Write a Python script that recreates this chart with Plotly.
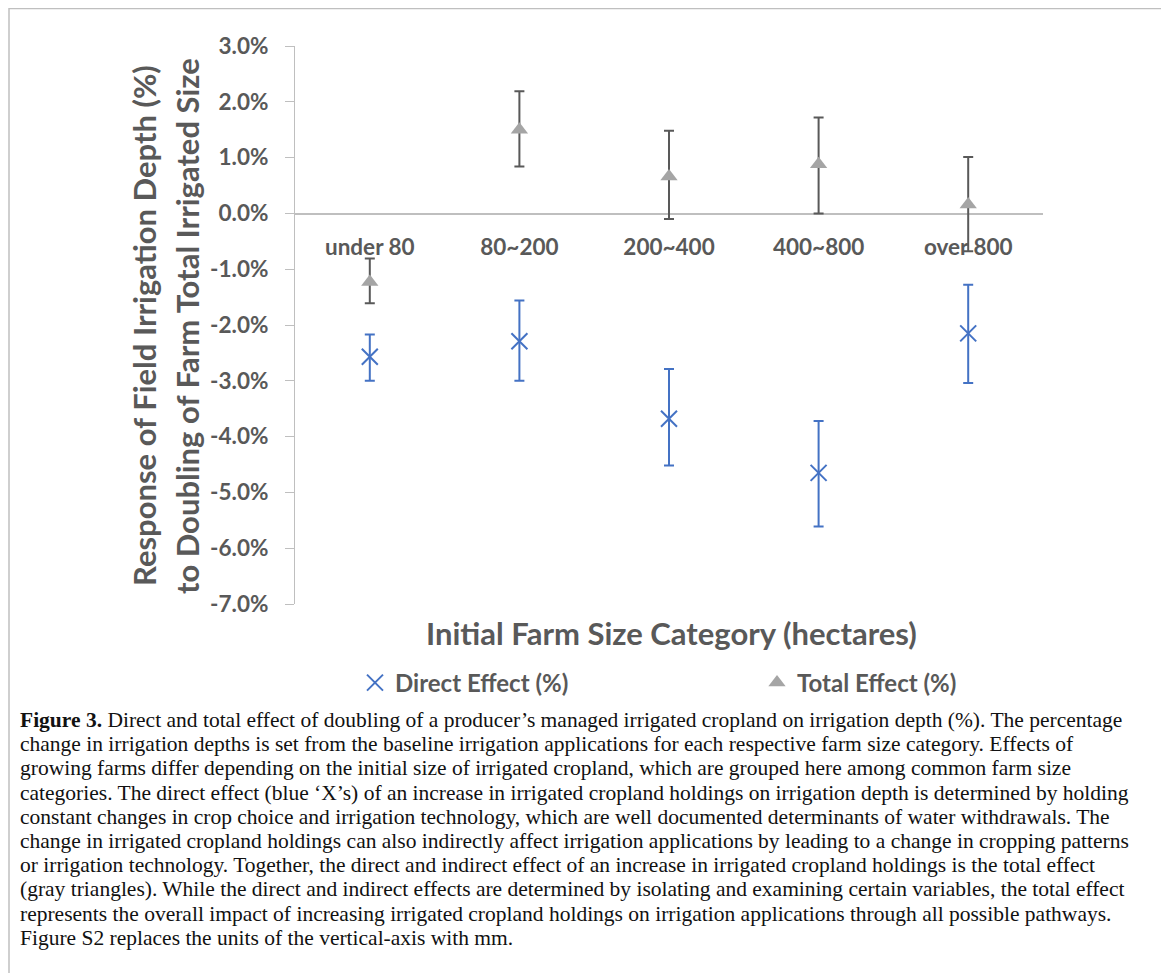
import plotly.graph_objects as go

categories = ["under 80", "80~200", "200~400", "400~800", "over 800"]

direct_effect = [-2.57, -2.29, -3.68, -4.65, -2.15]
direct_upper = [-2.17, -1.56, -2.79, -3.72, -1.28]
direct_lower = [-3.00, -3.00, -4.52, -5.61, -3.04]

total_effect = [-1.23, 1.50, 0.66, 0.88, 0.16]
total_upper = [-0.81, 2.19, 1.48, 1.72, 1.01]
total_lower = [-1.61, 0.84, -0.10, 0.00, -0.68]

y_ticks = [3, 2, 1, 0, -1, -2, -3, -4, -5, -6, -7]
y_tick_labels = ["3.0%", "2.0%", "1.0%", "0.0%", "-1.0%", "-2.0%", "-3.0%",
                 "-4.0%", "-5.0%", "-6.0%", "-7.0%"]

caption_lines = [
    "<b>Figure 3.</b> Direct and total effect of doubling of a producer’s managed irrigated cropland on irrigation depth (%). The percentage",
    "change in irrigation depths is set from the baseline irrigation applications for each respective farm size category. Effects of",
    "growing farms differ depending on the initial size of irrigated cropland, which are grouped here among common farm size",
    "categories. The direct effect (blue ‘X’s) of an increase in irrigated cropland holdings on irrigation depth is determined by holding",
    "constant changes in crop choice and irrigation technology, which are well documented determinants of water withdrawals. The",
    "change in irrigated cropland holdings can also indirectly affect irrigation applications by leading to a change in cropping patterns",
    "or irrigation technology. Together, the direct and indirect effect of an increase in irrigated cropland holdings is the total effect",
    "(gray triangles). While the direct and indirect effects are determined by isolating and examining certain variables, the total effect",
    "represents the overall impact of increasing irrigated cropland holdings on irrigation applications through all possible pathways.",
    "Figure S2 replaces the units of the vertical-axis with mm.",
]

OFF = 8  # page body margin
W, H = 1169 - OFF, 973 - OFF
L, R, T, B = 295 - OFF, 1043 - OFF, 46 - OFF, 604 - OFF
PW, PH = R - L, B - T


def px_x(x):
    return (x - OFF - L) / PW


def px_y(y):
    return (B - (y - OFF)) / PH


GRAY = "#595959"
BLUE = "#4472C4"
TRI = "#A5A5A5"
FONT = "Lato"

fig = go.Figure()

fig.add_trace(go.Scatter(
    x=categories, y=direct_effect, mode="markers", name="Direct Effect (%)",
    legend="legend",
    marker=dict(symbol="x-thin", size=16, color=BLUE, line=dict(color=BLUE, width=2)),
    error_y=dict(type="data", symmetric=False,
                 array=[u - v for u, v in zip(direct_upper, direct_effect)],
                 arrayminus=[v - l for v, l in zip(direct_effect, direct_lower)],
                 color=BLUE, thickness=2, width=5),
))

fig.add_trace(go.Scatter(
    x=categories, y=total_effect, mode="markers", name="Total Effect (%)",
    legend="legend2",
    marker=dict(symbol="triangle-up", size=15, color=TRI),
    error_y=dict(type="data", symmetric=False,
                 array=[u - v for u, v in zip(total_upper, total_effect)],
                 arrayminus=[v - l for v, l in zip(total_effect, total_lower)],
                 color=GRAY, thickness=2, width=5),
))

annotations = []
annotations.append(dict(
    text="Response of Field Irrigation Depth (%)", textangle=-90,
    xref="paper", yref="paper", x=px_x(144), y=px_y(326),
    xanchor="center", yanchor="middle", showarrow=False,
    font=dict(family=FONT, size=31, color=GRAY, weight="bold"),
))
annotations.append(dict(
    text="to Doubling of Farm Total Irrigated Size", textangle=-90,
    xref="paper", yref="paper", x=px_x(187), y=px_y(326),
    xanchor="center", yanchor="middle", showarrow=False,
    font=dict(family=FONT, size=31, color=GRAY, weight="bold"),
))
annotations.append(dict(
    text="Initial Farm Size Category (hectares)",
    xref="paper", yref="paper", x=px_x(671), y=px_y(633),
    xanchor="center", yanchor="middle", showarrow=False,
    font=dict(family=FONT, size=31, color=GRAY, weight="bold"),
))
for i, line in enumerate(caption_lines):
    annotations.append(dict(
        text=line, xref="paper", yref="paper",
        x=px_x(18), y=px_y(720 + i * 24.2),
        xanchor="left", yanchor="middle", showarrow=False, align="left",
        font=dict(family="Liberation Serif", size=21.5, color="#111111"),
    ))

shapes = [
    dict(type="line", xref="paper", yref="paper", x0=px_x(9), x1=px_x(9), y0=px_y(8), y1=px_y(1000),
         line=dict(color="#BFBFBF", width=1.5)),
    dict(type="line", xref="paper", yref="paper", x0=px_x(1164), x1=px_x(1164), y0=px_y(8), y1=px_y(1000),
         line=dict(color="#BFBFBF", width=1.5)),
    dict(type="line", xref="paper", yref="paper", x0=px_x(9), x1=px_x(1164), y0=px_y(8.5), y1=px_y(8.5),
         line=dict(color="#BFBFBF", width=1.5)),
]

legend_font = dict(family=FONT, size=24, color=GRAY, weight="bold")

fig.update_layout(
    width=W, height=H,
    margin=dict(l=L, r=W - R, t=T, b=H - B, autoexpand=False),
    paper_bgcolor="white", plot_bgcolor="white",
    showlegend=True,
    legend=dict(orientation="h", x=px_x(355), y=px_y(683), xanchor="left", yanchor="middle",
                itemwidth=30, font=legend_font, bgcolor="rgba(0,0,0,0)"),
    legend2=dict(orientation="h", x=px_x(757), y=px_y(683), xanchor="left", yanchor="middle",
                 itemwidth=30, font=legend_font, bgcolor="rgba(0,0,0,0)"),
    annotations=annotations,
    shapes=shapes,
    xaxis=dict(
        type="category", range=[-0.5, 4.5], anchor="free", position=px_y(213.5),
        showline=True, linecolor="#BFBFBF", linewidth=1.5, showgrid=False, zeroline=False,
        ticks="", ticklabelstandoff=14, layer="below traces",
        tickfont=dict(family=FONT, size=22.5, color=GRAY, weight="bold"),
    ),
    yaxis=dict(
        range=[-7, 3], tickvals=y_ticks, ticktext=y_tick_labels,
        showline=True, linecolor="#BFBFBF", linewidth=1.2, showgrid=False, zeroline=False,
        ticks="outside", ticklen=9, tickcolor="#BFBFBF", tickwidth=1.2, ticklabelstandoff=12,
        tickfont=dict(family=FONT, size=22.5, color=GRAY, weight="bold"),
    ),
)

fig.write_html("out.html")
